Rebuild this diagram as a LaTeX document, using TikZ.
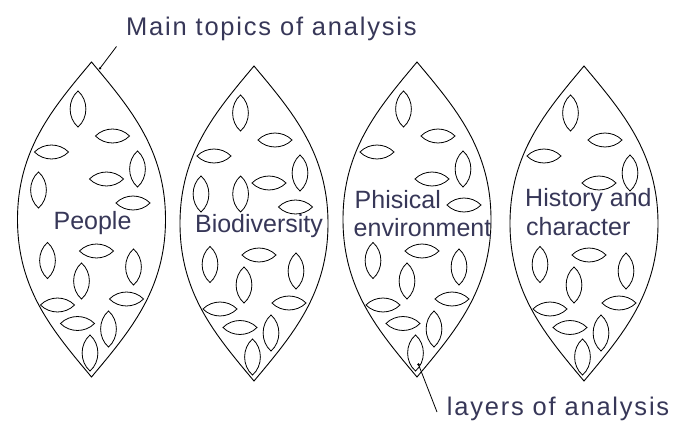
\documentclass[tikz,border=0pt]{standalone}
\usepackage{fontspec}
\setmainfont{Liberation Sans}
\newfontfamily\spacedfont[LetterSpace=7]{Liberation Sans}
\definecolor{txt}{RGB}{55,55,88}
\newcommand\commonlenses{%
  \pic at (-13.5,47) {vlens};
  \pic at (21,74) {hlens};
  \pic at (-40,90) {hlens};
  \pic at (46,107) {vlens};
  \pic at (15,117) {hlens};
  \pic at (5,189) {hlens};
  \pic at (-44,198.5) {vlens};
  \pic at (42,205) {vlens};
  \pic at (-10,219) {vlens};
  \pic at (35,237) {hlens};
  \pic at (-34,243) {hlens};
  \pic at (-14,261.5) {hlens};
  \pic at (17,267) {vlens};
  \pic at (-1.5,291) {vlens};
}
\begin{document}
\begin{tikzpicture}[x=1pt,y=-1pt,
  leafline/.style={draw=black, line width=0.9pt},
  lensline/.style={draw=black, line width=0.8pt},
  leaderline/.style={draw=black, line width=0.8pt},
  leaflabel/.style={text=txt, font=\fontsize{25}{28}\selectfont, inner sep=0pt},
  toplabel/.style={text=txt, font=\spacedfont\fontsize{25.5}{28}\selectfont, inner sep=0pt},
  pics/vlens/.style={code={\draw[lensline] (0,-18) .. controls (10.5,-9) and (10.5,9) .. (0,18) .. controls (-10.5,9) and (-10.5,-9) .. cycle;}},
  pics/hlens/.style={code={\draw[lensline] (-17,0) .. controls (-8,-9.3) and (8,-9.3) .. (17,0) .. controls (8,9.3) and (-8,9.3) .. cycle;}},
  pics/leaf/.style={code={\draw[leafline] (0,0) .. controls (-38.6,46) and (-74,87.5) .. (-74,157.5) .. controls (-74,227.5) and (-38.6,269) .. (0,315) .. controls (38.6,269) and (74,227.5) .. (74,157.5) .. controls (74,87.5) and (38.6,46) .. cycle;}}
]
\useasboundingbox (0,0) rectangle (673,423);
\fill[white] (0,0) rectangle (673,423);

% leaf 1
\begin{scope}[shift={(91.5,62)}]
  \pic at (0,0) {leaf};
  \commonlenses
  \pic at (-53,128) {vlens};
  \pic at (41.5,141) {hlens};
\end{scope}
% leaf 2
\begin{scope}[shift={(254,66)}]
  \pic at (0,0) {leaf};
  \commonlenses
  \pic at (-53,128) {vlens};
  \pic at (-13.4,128) {vlens};
  \pic at (41.5,141) {hlens};
\end{scope}
% leaf 3
\begin{scope}[shift={(417,62)}]
  \pic at (0,0) {leaf};
  \commonlenses
  \pic at (47,143) {hlens};
\end{scope}
% leaf 4
\begin{scope}[shift={(584,66)}]
  \pic at (0,0) {leaf};
  \commonlenses
\end{scope}

% leaf labels
\node[leaflabel, anchor=base] (people) at (92.5,229.3) {People};
\node[leaflabel, anchor=base] (bio) at (259,232.7) {Biodiversity};
\node[leaflabel, anchor=base west] (phys1) at (354.5,208) {Phisical};
\node[leaflabel, anchor=base west] (phys2) at (353.5,236) {environment};
\node[leaflabel, anchor=base west] (hist1) at (525,206.7) {History and};
\node[leaflabel, anchor=base west] (hist2) at (526,235) {character};

% top and bottom labels
\node[toplabel, anchor=base west] (main) at (126,35) {Main topics of analysis};
\node[toplabel, anchor=base west] (layers) at (446.7,415) {layers of analysis};

% leaders
\coordinate (mainstart) at (116.5,46.5);
\coordinate (mainend) at (100,68.3);
\draw[leaderline] (mainstart) -- (mainend);
\fill (mainend) circle (1.3);
\coordinate (layersend) at (418.5,364.5);
\coordinate (layersstart) at (437,412);
\draw[leaderline] (layersstart) -- (layersend);
\fill (layersend) circle (1.3);
\end{tikzpicture}
\end{document}
